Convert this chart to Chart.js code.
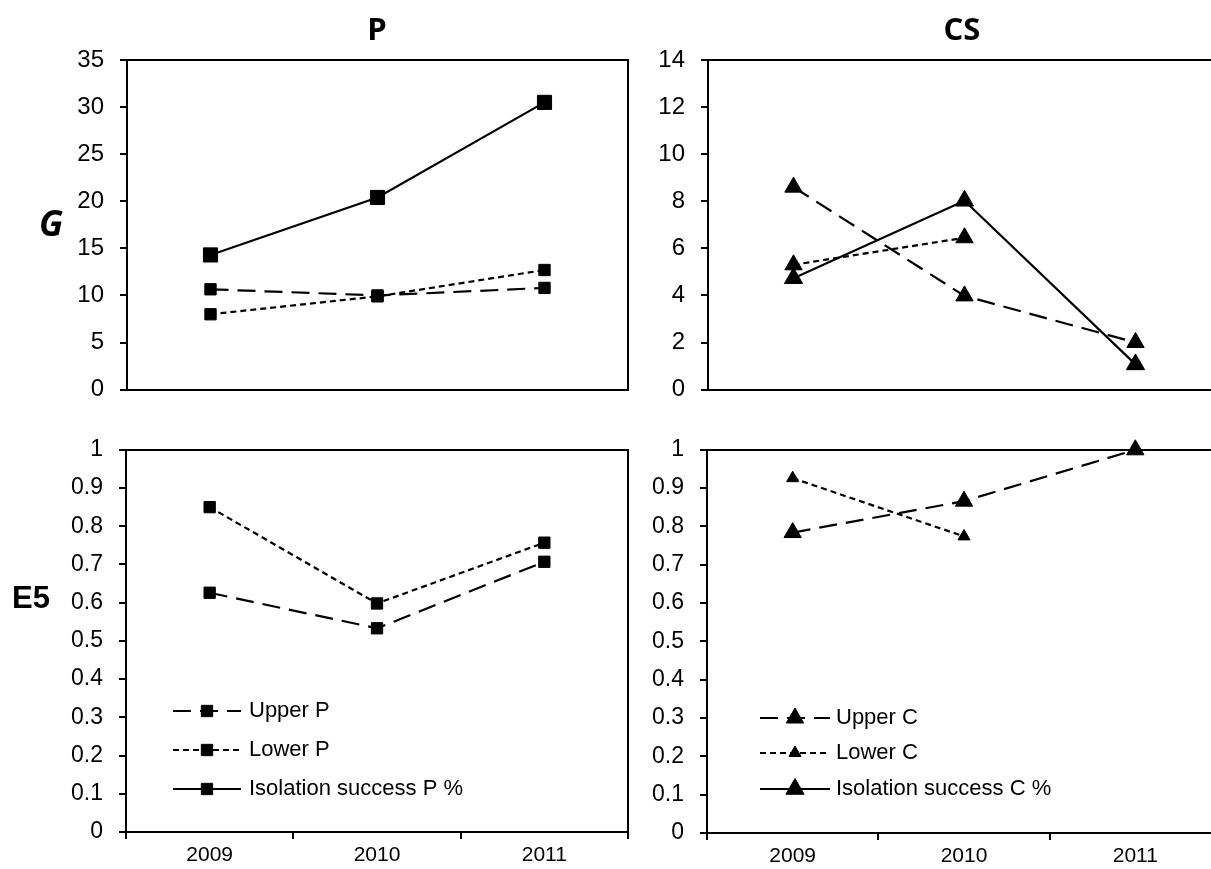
<!DOCTYPE html>
<html>
<head>
<meta charset="utf-8">
<script src="https://cdn.jsdelivr.net/npm/chart.js@4/dist/chart.umd.min.js"></script>
<style>
  html, body { margin:0; padding:0; background:#fff; overflow:hidden; width:1211px; height:869px; position:relative; }
  .panel { position:absolute; }
  .lbl { position:absolute; color:#000; white-space:nowrap; transform:translate(-50%,-50%); line-height:1; }
</style>
</head>
<body>
<div class="panel" style="left:0;top:0;width:640px;height:420px"><canvas id="cGP"></canvas></div>
<div class="panel" style="left:640px;top:0;width:600px;height:420px"><canvas id="cGC"></canvas></div>
<div class="panel" style="left:0;top:420px;width:640px;height:449px"><canvas id="cEP"></canvas></div>
<div class="panel" style="left:640px;top:420px;width:600px;height:449px"><canvas id="cEC"></canvas></div>

<div class="lbl" style="left:377px;top:28px;font:700 31px 'Open Sans',sans-serif">P</div>
<div class="lbl" style="left:962px;top:28px;font:700 31px 'Open Sans',sans-serif">CS</div>
<div class="lbl" style="left:51px;top:222px;font:italic 700 35px 'Open Sans',sans-serif">G</div>
<div class="lbl" style="left:31px;top:598px;font:700 31px 'Liberation Sans',Arial,sans-serif">E5</div>

<script>
// ---- categories ----
const years = ['2009', '2010', '2011'];

// ---- series labels ----
const labelsP = ['Upper P', 'Lower P', 'Isolation success P %'];
const labelsC = ['Upper C', 'Lower C', 'Isolation success C %'];

// ---- G panel, P ----
const gUpperP = [10.65, 10.0, 10.8];
const gLowerP = [8.0, 9.9, 12.7];
const gIsoP   = [14.3, 20.4, 30.5];

// ---- G panel, CS ----
const gUpperC = [8.6, 3.98, 2.0];
const gLowerC = [5.3, 6.45, null];
const gIsoC   = [4.73, 8.02, 1.07];

// ---- E5 panel, P ----
const eUpperP = [0.626, 0.533, 0.707];
const eLowerP = [0.850, 0.598, 0.757];
const eIsoP   = [null, null, null];

// ---- E5 panel, CS ----
const eUpperC = [0.784, 0.866, 1.0];
const eLowerC = [0.926, 0.774, null];
const eIsoC   = [null, null, null];

// ---- y axis tick ranges ----
const gTicksP = { min: 0, max: 35, step: 5 };
const gTicksC = { min: 0, max: 14, step: 2 };
const eTicks  = { min: 0, max: 1, step: 0.1 };

const FONT = "'Liberation Sans', Arial, sans-serif";

function ds(label, data, kind, marker, radius) {
  const dash = kind === 'upper' ? [18, 9] : kind === 'lower' ? [6, 4] : [];
  return {
    label, data,
    borderColor: '#000', backgroundColor: '#000',
    borderWidth: 2.2, borderDash: dash,
    pointStyle: marker, pointRadius: radius, pointHoverRadius: radius,
    pointBorderWidth: 1, pointBackgroundColor: '#000', pointBorderColor: '#000',
    tension: 0, spanGaps: false, clip: false, fill: false
  };
}

// legend drawn inside the plot area, lower left
const insideLegend = {
  id: 'insideLegend',
  afterDatasetsDraw(chart, args, opts) {
    if (!opts || !opts.display) return;
    const ctx = chart.ctx, ca = chart.chartArea;
    const x0 = ca.left + opts.x;
    chart.data.datasets.forEach((d, i) => {
      const y = ca.bottom - opts.rows[i];
      ctx.save();
      ctx.strokeStyle = d.borderColor;
      ctx.lineWidth = d.borderWidth;
      ctx.setLineDash(d.borderDash || []);
      ctx.beginPath();
      ctx.moveTo(x0, y);
      ctx.lineTo(x0 + opts.sample, y);
      ctx.stroke();
      ctx.setLineDash([]);
      ctx.fillStyle = '#000';
      ctx.strokeStyle = '#000';
      ctx.lineWidth = d.pointBorderWidth;
      Chart.helpers.drawPoint(ctx, { pointStyle: d.pointStyle, radius: d.pointRadius, rotation: 0, borderWidth: d.pointBorderWidth }, x0 + opts.sample / 2, y);
      ctx.font = opts.font;
      ctx.textAlign = 'left';
      ctx.textBaseline = 'middle';
      ctx.fillStyle = '#000';
      ctx.fillText(d.label, x0 + opts.sample + opts.gap, y);
      ctx.restore();
    });
  }
};

function makeChart(id, datasets, o) {
  const border = { display: true, color: '#000', width: 2 };
  return new Chart(document.getElementById(id), {
    type: 'line',
    data: { labels: years, datasets },
    plugins: [insideLegend],
    options: {
      responsive: true, maintainAspectRatio: false, animation: false,
      events: [],
      layout: { padding: { top: o.padTop, right: o.padRight, left: 0, bottom: 0 } },
      plugins: {
        legend: { display: false },
        tooltip: { enabled: false },
        title: { display: false },
        insideLegend: o.legend || { display: false }
      },
      scales: {
        x: {
          type: 'category', offset: true,
          grid: { display: o.showX, offset: true, drawOnChartArea: false, drawTicks: true, tickLength: 7, color: '#000', lineWidth: 2 },
          border,
          ticks: { display: o.showX, color: '#000', font: { family: FONT, size: 21 }, padding: 4, maxRotation: 0, autoSkip: false },
          afterFit: s => { s.height = o.xh; }
        },
        y: {
          type: 'linear', min: o.ticks.min, max: o.ticks.max,
          ticks: {
            stepSize: o.ticks.step, color: '#000', font: { family: FONT, size: o.yFont }, padding: 16,
            callback: v => String(Math.round(v * 10) / 10)
          },
          grid: { drawOnChartArea: false, drawTicks: true, tickLength: 7, color: '#000', lineWidth: 2 },
          border,
          afterFit: s => { s.width = o.yw; }
        },
        xTop: {
          type: 'category', position: 'top', display: true,
          grid: { display: false }, ticks: { display: false }, border,
          afterFit: s => { s.height = 0; }
        },
        yRight: {
          type: 'linear', position: 'right', display: true,
          grid: { display: false }, ticks: { display: false }, border,
          afterFit: s => { s.width = 0; }
        }
      }
    }
  });
}

makeChart('cGP', [
  ds(labelsP[0], gUpperP, 'upper', 'rect', 8),
  ds(labelsP[1], gLowerP, 'lower', 'rect', 8),
  ds(labelsP[2], gIsoP, 'iso', 'rect', 10)
], { padTop: 60, padRight: 12, yw: 127, xh: 27, showX: false, ticks: gTicksP, yFont: 24 });

makeChart('cGC', [
  ds(labelsC[0], gUpperC, 'upper', 'triangle', 10),
  ds(labelsC[1], gLowerC, 'lower', 'triangle', 10),
  ds(labelsC[2], gIsoC, 'iso', 'triangle', 10.5)
], { padTop: 60, padRight: 19, yw: 68, xh: 26, showX: false, ticks: gTicksC, yFont: 24 });

makeChart('cEP', [
  ds(labelsP[0], eUpperP, 'upper', 'rect', 8),
  ds(labelsP[1], eLowerP, 'lower', 'rect', 8),
  ds(labelsP[2], eIsoP, 'iso', 'rect', 8)
], { padTop: 23, padRight: 12, yw: 126, xh: 37, showX: true, ticks: eTicks, yFont: 23,
     legend: { display: true, x: 47, sample: 68, gap: 8, rows: [121, 82, 43], font: "22px 'Liberation Sans', Arial, sans-serif" } });

makeChart('cEC', [
  ds(labelsC[0], eUpperC, 'upper', 'triangle', 10),
  ds(labelsC[1], eLowerC, 'lower', 'triangle', 7),
  ds(labelsC[2], eIsoC, 'iso', 'triangle', 10.5)
], { padTop: 24, padRight: 19, yw: 67, xh: 36, showX: true, ticks: eTicks, yFont: 23,
     legend: { display: true, x: 53, sample: 70, gap: 6, rows: [115, 80, 44], font: "22px 'Liberation Sans', Arial, sans-serif" } });
</script>
</body>
</html>
